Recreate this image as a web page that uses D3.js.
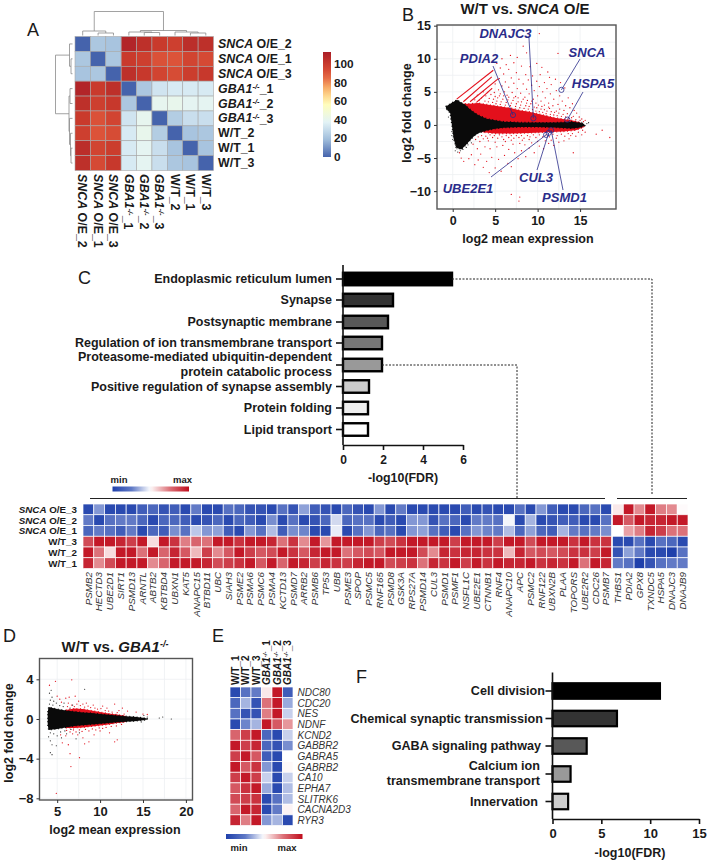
<!DOCTYPE html>
<html><head><meta charset="utf-8">
<script src="https://cdnjs.cloudflare.com/ajax/libs/d3/7.8.5/d3.min.js"></script>
<style>
html,body{margin:0;padding:0;background:#fff}
text{font-family:"Liberation Sans",Arial,sans-serif;fill:#1a1a1a}
</style></head><body><svg id="c" width="709" height="862"></svg>
<script>
/* ---------- Panel A ---------- */
const sampleA=["SNCA O/E_2","SNCA O/E_1","SNCA O/E_3","GBA1-/-_1","GBA1-/-_2","GBA1-/-_3","W/T_2","W/T_1","W/T_3"];
const distA=[
[0,22,21,110,105,100,98,106,105],
[22,0,22,100,98,91,90,96,94],
[21,22,0,105,101,96,93,99,101],
[110,100,105,0,22,32,34,34,34],
[105,98,101,22,0,40,41,39,39],
[100,91,96,32,40,0,24,30,30],
[98,90,93,34,41,24,0,21,22],
[106,96,99,34,39,30,21,0,21],
[105,94,101,34,39,30,22,21,0]];
const dendroColsA={h:24,c:[{h:4.5,c:[0,{h:2.5,c:[1,2]}]},{h:5,c:[{h:3.5,c:[3,{h:3,c:[4,5]}]},{h:3.5,c:[6,{h:2.5,c:[7,8]}]}]}]};
const dendroRowsA={h:17,c:[{h:3,c:[0,{h:1.5,c:[1,2]}]},{h:3.5,c:[{h:2.5,c:[3,4]},{h:3,c:[5,{h:2,c:[6,{h:1.5,c:[7,8]}]}]}]}]};
const legendTicksA=[0,20,40,60,80,100];
/* ---------- Panel B ---------- */
const blackUpB=[[-0.8,2.8],[-0.3,3.2],[0.5,3.8],[1,3.4],[1.5,3.0],[2,2.4],[2.5,1.9],[3,1.5],[4,0.95],[5,0.7],[6,0.5],[8,0.38],[10,0.36],[12,0.36],[13,0.42],[14,0.5],[15,0.32],[15.5,0.15]];
const blackLowB=[[-0.8,2.5],[-0.3,1.8],[-0.1,0],[0.1,-2],[0.4,-3.4],[1,-3.7],[1.5,-3.1],[2,-2.4],[2.5,-1.7],[3,-1.25],[4,-0.85],[5,-0.58],[6,-0.42],[8,-0.32],[10,-0.32],[12,-0.38],[13,-0.48],[14,-0.52],[15,-0.38],[15.5,-0.15]];
const redUpB=[[1,3.2],[2,3.2],[3,3.3],[4,3.1],[5,2.9],[6,2.7],[7,2.5],[8,2.2],[9,2.0],[10,1.7],[11,1.4],[12,1.1],[13,0.9],[14,0.7],[15,0.4]];
const redLowB=[[3.5,-1.1],[5,-1.3],[7,-1.3],[9,-1.2],[11,-1.1],[13,-1.0],[14.5,-0.8],[15.5,-0.3]];
const streaksB=[[0.47,3.9,4.78,8.26],[1.25,3.5,4.6,7.25],[2.04,3.5,5.37,7.0],[2.8,3.4,4.6,5.5]];
const redScatterB=[[10.2,13.8],[8.3,11.9],[8.7,10.9],[12.4,10.8],[6.8,10.5],[7.6,10.2],[5.8,10],[9.9,9.3],[5.2,9.3],[6.3,9.1],[7.2,9.4],[5.6,8.6],[6.6,8.4],[8.1,8.9],[9.1,8.8],[10.5,8.7],[11.2,8.0],[7.5,7.9],[8.6,7.6],[6.0,7.7],[9.4,7.4],[10.3,7.6],[11.4,7.2],[12.1,6.9],[6.9,7.1],[7.8,6.9],[8.9,6.8],[5.5,7.0],[9.9,6.6],[10.8,6.4],[11.6,6.1],[12.7,6.4],[6.2,6.5],[7.2,6.3],[8.3,6.2],[9.3,6.0],[10.2,5.8],[11.1,5.5],[12.2,5.2],[13.2,5.6],[5.0,6.2],[5.8,5.9],[6.6,5.7],[7.6,5.5],[8.7,5.4],[9.6,5.2],[10.6,5.0],[11.5,4.7],[12.6,4.4],[13.6,4.1],[4.6,5.5],[5.4,5.3],[6.1,5.0],[7.0,4.9],[8.0,4.8],[9.0,4.7],[10.0,4.4],[10.9,4.1],[11.9,3.9],[12.9,3.6],[14.1,3.2],[13.3,2.9],[12.4,3.1],[11.3,3.3],[10.4,3.6],[9.5,3.9],[8.5,4.2],[7.4,4.3],[14.6,1.8],[14.9,1.2],[15.2,0.9],[14.3,2.2],[13.8,2.6],[13.1,2.2],[12.6,2.4],[11.8,2.9],[10.8,3.0],[6.4,4.5],[5.6,4.7],[4.9,4.9],[7.7,4.1],[8.8,3.7],[9.8,3.3],[10.5,2.8],[11.4,2.5],[12.2,2.1],[13.5,1.7],[14.2,1.3],[15.6,0.7],
[2.6,3.8],[2.9,4.5],[3.1,3.7],[3.4,4.1],[3.6,5.0],[3.8,3.6],[3.9,4.4],[4.1,4.9],[4.2,3.5],[4.3,4.0],[4.5,4.6],[4.7,3.4],[4.8,3.9],[5.0,4.3],[5.1,3.2],[5.2,3.6],[5.3,4.1],[5.5,4.4],[5.6,3.1],[5.7,3.5],[5.9,3.9],[6.0,4.4],[6.2,3.0],[6.3,3.4],[6.5,3.8],[6.6,4.2],[6.8,2.9],[6.9,3.3],[7.1,3.7],[7.2,4.1],[7.4,2.8],[7.5,3.2],[7.7,3.5],[7.9,2.6],[8.0,3.0],[8.1,3.5],[8.3,3.9],[8.4,2.5],[8.6,2.9],[8.7,3.3],[8.9,2.4],[9.0,2.8],[9.2,3.2],[9.3,3.6],[9.4,2.3],[9.6,2.7],[9.8,2.1],[9.9,2.6],[10.1,3.0],[10.2,2.0],[10.4,2.4],[10.6,1.9],[10.8,2.3],[11.0,1.7],[11.1,2.1],[11.3,2.7],[11.5,1.6],[11.6,2.0],[11.9,1.5],[12.0,1.9],[12.3,1.4],[12.5,1.8],[12.8,1.3],[13.0,1.6],[13.3,1.2],[13.7,1.0],[14.0,1.1],[14.5,0.8],[15.0,0.7],[15.4,0.5],
[16.9,-1.4],[17.6,-0.8],[18.5,-1.9],[14.2,-4.2],[6.9,-10.5],[7.9,-10.9],[7.8,-11.5],[0.8,-4.2],[1.0,-5.0],[1.3,-5.5],[1.9,-5.1],[2.2,-4.5],[2.6,-6.0],[3.0,-5.3],[3.3,-4.4],[3.6,-6.4],[4.0,-5.5],[4.3,-7.2],[4.6,-4.9],[5.0,-6.5],[5.4,-5.2],[5.7,-7.0],[6.1,-4.6],[6.5,-5.8],[6.9,-6.3],[7.3,-4.2],[7.7,-5.1],[8.1,-3.9],[8.6,-4.8],[9.0,-3.5],[9.6,-4.2],[10.2,-3.2],[10.7,-3.6],[11.3,-2.8],[11.9,-3.1],[12.5,-2.6],[13.1,-2.4],[13.7,-2.1],[14.5,-1.7],[15.2,-1.5],[15.6,-1.1],[2.9,-3.6],[3.8,-3.3],[4.4,-3.6],[5.2,-3.3],[5.9,-3.1],[6.6,-3.7],[7.1,-2.9],[7.9,-2.8],[8.5,-3.0],[9.3,-2.7],[10.0,-2.5],[10.9,-2.4],[11.6,-2.3],[12.2,-2.0],[3.2,-2.5],[4.2,-2.4],[5.0,-2.6],[6.2,-2.5],[6.9,-2.3],[8.2,-2.3],[9.0,-2.2],[13.9,-1.6],
[2.4,-2.9],[2.7,-2.2],[3.0,-1.8],[3.4,-1.6],[3.6,-2.1],[3.9,-1.7],[4.1,-2.0],[4.4,-1.5],[4.7,-1.9],[4.9,-1.6],[5.3,-2.0],[5.5,-1.5],[5.8,-1.8],[6.0,-2.2],[6.3,-1.6],[6.6,-1.9],[6.9,-1.6],[7.2,-2.0],[7.5,-1.6],[7.8,-1.9],[8.1,-1.6],[8.4,-2.0],[8.8,-1.6],[9.1,-1.8],[9.5,-1.5],[9.8,-1.9],[10.2,-1.5],[10.6,-1.8],[11.0,-1.5],[11.4,-1.8],[11.8,-1.4],[12.3,-1.6],[12.8,-1.4],[13.2,-1.7],[13.6,-1.3],[14.1,-1.3],[14.8,-1.1],[15.3,-0.8]];
const blackScatterB=[[15.8,0.2],[15.6,-0.1],[16,0.35],[15.2,0.4],[0.3,-3.9],[0.6,-4.1],[1.2,-3.7],[0.9,-3.9],[0.5,-3.6],[0.4,-3.1],[1.6,-3.4],[1.8,-3.0],[2.2,-2.7],[-0.5,1.2],[-0.2,0.9],[-0.4,2.1],[-0.6,2.3],[-0.1,-1.0],[-0.1,-1.6],[0,-2.2]];
const genesB=[["SNCA",12.8,5.3],["HSPA5",13.5,0.8],["PDIA2",7.1,1.5],["DNAJC3",9.5,1.0],["UBE2E1",11.0,-1.5],["CUL3",11.3,-1.2],["PSMD1",11.6,-0.8]];
const ticksXB=[0,5,10,15], ticksYB=[-10,-5,0,5,10,15];
/* ---------- Panel C ---------- */
const termsC=[["Endoplasmic reticulum lumen"],["Synapse"],["Postsynaptic membrane"],["Regulation of ion transmembrane transport"],["Proteasome-mediated ubiquitin-dependent","protein catabolic process"],["Positive regulation of synapse assembly"],["Protein folding"],["Lipid transport"]];
const fdrC=[5.45,2.5,2.25,1.95,1.95,1.3,1.25,1.25];
const greysC=["#000","#333","#585858","#777","#999","#ccc","#eee","#fff"];
const ticksC=[0,2,4,6];
const rowsH=["SNCA O/E_3","SNCA O/E_2","SNCA O/E_1","W/T_3","W/T_2","W/T_1"];
const genesH1=["PSMB2","HECTD3","UBE2D1","SIRT1","PSMD13","ARNTL","ABTB2","KBTBD4","UBXN1","KAT5","ANAPC15","BTBD11","UBC","SIAH3","PSME2","PSMA6","PSMC6","PSMA4","KCTD13","PSMD7","ARRB2","PSMB6","TP53","UBB","PSME3","SPOP","PSMC5","RNF165","PSMD8","GSK3A","RPS27A","PSMD14","CUL3","PSMD1","PSMF1","NSFL1C","UBE2E1","CTNNB1","RNF4","ANAPC10","APC","PSMC2","RNF122","UBXN2B","PLAA","TOPORS","UBE2R2","CDC26","PSMB7"];
const genesH2=["THBS1","PDIA2","GPX8","TXNDC5","HSPA5","DNAJC3","DNAJB9"];
const exprH1=[
[-.95,-.55,-.95,-.95,-.95,-.85,-.8,-.9,-.85,-.95,-.7,-.95,-.95,-.75,-.8,-.9,-.9,-.95,-.75,-.9,-.5,-.85,-.9,-.95,-.8,-.9,-.95,-.55,-.95,-.7,-.95,-.95,-.95,-.95,-.95,-.85,-.95,-.9,-.95,-.95,-.75,-.95,-.55,-.85,-.95,-.95,-.8,-.75,-.95],
[-.7,-.95,-.75,-.7,-.7,-.8,-.95,-.8,-.8,-.85,-.95,-.9,-.8,-.95,-.8,-.85,-.95,-.6,-.95,-.75,-.95,-.9,-.8,-.2,-.8,-.75,-.75,-.95,-.85,-.95,-.55,-.55,-.9,-.75,-.8,-.95,-.7,-.7,-.75,-.05,-.95,-.4,-.95,-.9,-.85,-.85,-.95,-.95,-.75],
[-.8,-.7,-.75,-.85,-.7,-.95,-.8,-.85,-.6,-.75,-.3,-.55,-.5,-.85,-.95,-.55,-.75,-.35,-.85,-.6,-.65,-.95,-.95,-.1,-.95,-.75,-.55,-.8,-.75,-.95,-.55,-.5,-.75,-.85,-.95,-.75,-.55,-.65,-.7,-.35,-.8,-.5,-.8,-.85,-.4,-.7,-.75,-.7,-.6],
[.75,.95,.95,.9,.8,.95,.15,.95,.85,.55,.65,.6,.95,.95,.85,.95,.95,.9,.6,.85,.5,.95,.45,.95,.95,.95,.95,.8,.75,.85,.95,.95,.95,.95,.8,.95,.95,.95,.8,.95,.95,.75,.95,.95,.95,.85,.95,.85,.85],
[.95,.6,.15,.95,.95,.6,.95,.65,.9,.7,.3,.8,.5,.7,.95,.8,.7,.75,.95,.85,.7,.9,.95,.95,.6,.7,.75,.7,.95,.95,.95,.75,.5,.9,.85,.9,.9,.85,.85,.3,.9,.7,.75,.7,.75,.85,.85,.8,.95],
[.9,.5,.75,.95,.95,.95,.5,.65,.95,.95,.95,.9,.75,.8,.85,.95,.7,.95,.65,.95,.9,.8,.9,.85,.8,.9,.95,.95,.75,.8,.85,.6,.9,.85,.95,.8,.95,.85,.95,.9,.9,.95,.85,.9,.85,.95,.6,.95,.9]];
const exprH2=[
[.1,.95,.5,.95,.55,.5,.02],
[.95,.7,.95,.9,.9,.95,.95],
[0,.4,.55,.9,.8,.6,.6],
[-.95,-.95,-.75,-.95,-.75,-.8,-.95],
[-.9,-.5,-.7,-.95,-.95,-1,-.75],
[-.7,-.75,-1,-.9,-.75,-.7,-.7]];
/* ---------- Panel D ---------- */
const blackUpD=[[3.9,0.7],[4,1.2],[5,1.0],[6,0.85],[7,0.75],[8,0.65],[9,0.6],[10,0.5],[11,0.42],[12,0.35],[13,0.28],[14,0.22],[15,0.13],[15.5,0.05]];
const blackLowD=[[3.9,-0.6],[4,-1.1],[5,-1.0],[6,-0.85],[7,-0.7],[8,-0.62],[9,-0.55],[10,-0.47],[11,-0.4],[12,-0.32],[13,-0.27],[14,-0.22],[15,-0.13],[15.5,-0.05]];
const redUpD=[[6,0.9],[7,1.05],[8,1.0],[9,0.85],[10,0.7],[11,0.55],[12,0.45],[13,0.3]];
const redLowD=[[6,-0.9],[7,-0.9],[8,-0.85],[9,-0.75],[10,-0.65],[11,-0.55],[12,-0.4],[13,-0.3]];
const redScatterD=[[4.8,3.8],[4.1,3.4],[6.7,3.95],[5.3,2.0],[5.0,2.3],[6.0,2.1],[6.4,2.2],[5.5,1.7],[7.1,2.3],[6.3,1.6],[7.5,1.8],[8.4,1.6],[9.2,1.4],[10.3,1.3],[10.8,1.1],[11.7,1.5],[12.6,1.1],[12.2,0.85],[13.2,0.8],[14.2,0.7],[15.0,0.5],[15.5,0.45],[5.4,-1.6],[6.0,-1.7],[6.8,-1.5],[7.4,-1.6],[8.0,-1.9],[8.7,-2.3],[9.3,-1.6],[10.0,-1.2],[11.1,-1.4],[11.7,-2.3],[12.0,-2.1],[6.3,-2.6],[5.6,-2.4],[4.9,-7.5],[6.5,-3.5],[7.6,-3.9],[6.6,-4.8],[8.2,-2.5],
[6.2,1.25],[6.7,1.4],[7.0,1.25],[7.3,1.5],[7.7,1.35],[8.0,1.5],[8.2,1.2],[8.6,1.3],[8.9,1.15],[9.4,1.1],[9.7,1.0],[10.1,1.05],[10.6,0.85],[11.0,0.8],[11.4,0.7],[12.0,0.65],[12.8,0.5],[6.1,-1.15],[6.5,-1.3],[6.9,-1.1],[7.2,-1.3],[7.6,-1.1],[7.9,-1.25],[8.3,-1.05],[8.7,-1.2],[9.1,-1.0],[9.5,-1.1],[9.9,-0.9],[10.3,-0.95],[10.7,-0.85],[11.3,-0.75],[11.9,-0.7],[12.5,-0.55]];
const blackScatterD=[[4.1,2.6],[4.3,2.9],[4.4,2.2],[4.2,1.9],[4.6,1.8],[5.8,1.6],[8.2,3.0],[6.8,1.4],[16.9,0.1],[17.3,0.2],[18.3,0],[15.1,0.35],[15.5,0.2],[14.8,-0.3],[15.2,-0.1],[4.0,-1.8],[4.2,-2.2],[4.4,-2.6],[4.9,-2.7],[4.2,-3.4],[4.4,-3.6],[5.5,-1.9],[6.1,-1.5],[7.2,-2.0],[7.6,-1.4],[4.1,1.5],[4.5,1.4],[4.9,1.6],[5.3,1.35],[5.7,1.25],[6.5,1.1],[4.2,-1.4],[4.6,-1.5],[5.0,-1.7],[5.4,-1.3],[5.9,-1.2],[6.6,-1.05]];
const ticksXD=[5,10,15,20], ticksYD=[-8,-4,0,4];
/* ---------- Panel E ---------- */
const samplesE=["W/T_1","W/T_2","W/T_3","GBA1-/-_1","GBA1-/-_2","GBA1-/-_3"];
const genesE=["NDC80","CDC20","NES","NDNF","KCND2","GABBR2","GABRA5","GABRB2","CA10","EPHA7","SLITRK6","CACNA2D3","RYR3"];
const exprE=[
[-.95,-.75,-.7,.1,.95,-.85],
[-.8,-.4,-.9,.6,.95,-.45],
[-.75,-.9,-.9,.55,.95,-.25],
[-.95,-.65,-.4,.95,.7,.45],
[.65,.8,.95,-.8,-.95,-.25],
[.95,.8,.9,-.8,-.9,-.6],
[.8,.95,.7,-.85,-.95,0],
[.95,.7,.85,-.55,-.95,.03],
[.8,.95,.8,-.25,-.95,-.25],
[.7,.85,.95,-.45,-.95,-.35],
[.75,.8,.85,-.95,-.75,-.35],
[.65,.95,.9,-.95,-.7,.05],
[.9,.55,.95,-.55,-.4,-.95]];
/* ---------- Panel F ---------- */
const termsF=[["Cell division"],["Chemical synaptic transmission"],["GABA signaling pathway"],["Calcium ion","transmembrane transport"],["Innervation"]];
const fdrF=[11,6.6,3.5,1.85,1.6];
const greysF=["#000","#333","#585858","#999","#ccc"];
const ticksF=[0,5,10,15];

/* ---------- helpers ---------- */
const svg=d3.select("#c");
const ink="#1a1a1a", navy="#2a2c8a", red="#e3101c";
const heat=d3.scaleLinear().domain([-1,-.5,0,.5,1]).range(["#1f40ab","#8ea1d8","#ffffff","#e38a90","#bf0c1c"]);
const corr=d3.scaleLinear().domain([0,18,37,56,72,88,100,113]).range(["#4563ac","#9dbbda","#e2f3f8","#ffffbf","#fdbf71","#e0583c","#c93a2c","#ab1f28"]);
function rich(t,label){
  const m=/^(SNCA)( O\/E_\d)$/.exec(label), g=/^(GBA1)-\/-(_\d)$/.exec(label);
  if(m){t.append("tspan").attr("font-style","italic").text(m[1]);t.append("tspan").text(m[2]);}
  else if(g){t.append("tspan").attr("font-style","italic").text(g[1]);
    t.append("tspan").attr("font-style","italic").attr("font-size","0.62em").attr("dy","-0.5em").text("-/-");
    t.append("tspan").attr("dy","0.32em").text(g[2]);}
  else t.text(label);
}
function letter(s,x,y){svg.append("text").attr("x",x).attr("y",y).attr("font-size",18).text(s);}
function legendBar(id,x0,x1,y,h){
  const g=svg.append("defs").append("linearGradient").attr("id",id);
  [[0,"#1f40ab"],[.25,"#5f79c6"],[.48,"#f4f6fb"],[.52,"#fbeeee"],[.75,"#dc7077"],[1,"#bf0c1c"]].forEach(s=>g.append("stop").attr("offset",s[0]).attr("stop-color",s[1]));
  svg.append("rect").attr("x",x0).attr("y",y).attr("width",x1-x0).attr("height",h).attr("fill",`url(#${id})`);
}
function maPanel(o){
  const g=svg.append("g");
  const x=d3.scaleLinear().domain(o.xd).range([o.l,o.r]), y=d3.scaleLinear().domain(o.yd).range([o.b,o.t]);
  const clip="clip"+o.id;
  svg.append("defs").append("clipPath").attr("id",clip).append("rect").attr("x",o.l).attr("y",o.t).attr("width",o.r-o.l).attr("height",o.b-o.t);
  const minorX=d3.range(0,o.ticksX.length*2-1).map(i=>o.ticksX[0]+i*(o.ticksX[1]-o.ticksX[0])/2);
  const minorY=d3.range(0,o.ticksY.length*2-1).map(i=>o.ticksY[0]+i*(o.ticksY[1]-o.ticksY[0])/2);
  g.selectAll(".gx").data(minorX).join("line").attr("x1",d=>x(d)).attr("x2",d=>x(d)).attr("y1",o.t).attr("y2",o.b).attr("stroke","#eef0f2").attr("stroke-width",.8);
  g.selectAll(".gy").data(minorY).join("line").attr("y1",d=>y(d)).attr("y2",d=>y(d)).attr("x1",o.l).attr("x2",o.r).attr("stroke","#eef0f2").attr("stroke-width",.8);
  const band=(up,low,col)=>{
    const poly=up.concat(low.slice().reverse()).map(p=>[x(p[0]),y(p[1])]);
    const line=d3.line().curve(d3.curveLinearClosed);
    g.append("path").attr("d",line(poly)).attr("fill",col);
    g.append("path").attr("d",line(poly)).attr("fill","none").attr("stroke",col).attr("stroke-width",o.speck).attr("stroke-dasharray","1 2.6");
  };
  band(o.redUp,o.redLow,red);
  (o.streaks||[]).forEach(s=>g.append("line").attr("x1",x(s[0])).attr("y1",y(s[1])).attr("x2",x(s[2])).attr("y2",y(s[3])).attr("stroke",red).attr("stroke-width",1.1));
  g.append("g").attr("clip-path",`url(#${clip})`).selectAll("circle").data(o.redPts).join("circle").attr("cx",d=>x(d[0])).attr("cy",d=>y(d[1])).attr("r",.65).attr("fill",red);
  band(o.blackUp,o.blackLow,"#0a0a0a");
  g.append("g").selectAll("circle").data(o.blackPts).join("circle").attr("cx",d=>x(d[0])).attr("cy",d=>y(d[1])).attr("r",.6).attr("fill","#222");
  g.append("rect").attr("x",o.l).attr("y",o.t).attr("width",o.r-o.l).attr("height",o.b-o.t).attr("fill","none").attr("stroke","#555").attr("stroke-width",1.4);
  const ax=g.append("g").attr("transform",`translate(0,${o.b})`).call(d3.axisBottom(x).tickValues(o.ticksX).tickSize(3).tickPadding(4));
  const ay=g.append("g").attr("transform",`translate(${o.l},0)`).call(d3.axisLeft(y).tickValues(o.ticksY).tickSize(3).tickPadding(3));
  [ax,ay].forEach(a=>{a.select(".domain").remove();a.selectAll("line").attr("stroke","#333").attr("stroke-width",1);
    a.selectAll("text").attr("font-size",o.tf).attr("font-weight","bold").attr("font-family",'"Liberation Sans"').attr("fill",ink);});
  g.append("text").attr("x",o.xtx).attr("y",o.xty).attr("text-anchor","middle").attr("font-size",o.tl).attr("font-weight","bold").text("log2 mean expression");
  g.append("text").attr("transform",`translate(${o.ytx},${o.yty}) rotate(-90)`).attr("text-anchor","middle").attr("font-size",o.tl).attr("font-weight","bold").text("log2 fold change");
  return {x,y,g};
}
function barPanel(o){
  const g=svg.append("g");
  const x=d3.scaleLinear().domain([0,o.ticks[o.ticks.length-1]]).range([o.x0,o.x1]);
  const y=d3.scaleOrdinal().domain(d3.range(o.vals.length)).range(o.ys);
  g.selectAll("rect").data(o.vals).join("rect").attr("x",o.x0).attr("y",(d,i)=>y(i)-o.h/2).attr("width",d=>x(d)-o.x0).attr("height",o.h).attr("fill",(d,i)=>o.greys[i]).attr("stroke","#000").attr("stroke-width",o.sw);
  const ax=g.append("g").attr("transform",`translate(0,${o.axisY})`).call(d3.axisBottom(x).tickValues(o.ticks).tickFormat(d3.format("d")).tickSize(5).tickPadding(5).tickSizeOuter(0));
  ax.select(".domain").attr("stroke","#111").attr("stroke-width",1.6);
  ax.selectAll("line").attr("stroke","#111").attr("stroke-width",1.6);
  ax.selectAll("text").attr("font-size",o.tf).attr("font-weight","bold").attr("font-family",'"Liberation Sans"').attr("fill",ink);
  g.append("line").attr("x1",o.x0).attr("x2",o.x0).attr("y1",o.top).attr("y2",o.axisY).attr("stroke","#111").attr("stroke-width",1.6);
  g.selectAll(".t").data(o.vals).join("line").attr("x1",o.x0-7).attr("x2",o.x0).attr("y1",(d,i)=>y(i)).attr("y2",(d,i)=>y(i)).attr("stroke","#111").attr("stroke-width",1.6);
  o.terms.forEach((lines,i)=>{
    lines.forEach((s,j)=>{
      const dy=(j-(lines.length-1)/2)*o.lh-(lines.length>1?1:0);
      const t=g.append("text").attr("x",o.lx[i]).attr("y",y(i)+dy+o.tl*.35).attr("text-anchor","end").attr("font-size",o.tl).attr("font-weight","bold").text(s);
      if(o.fit&&o.fit[s])t.attr("textLength",o.fit[s]).attr("lengthAdjust","spacing");
    });
  });
  g.append("text").attr("x",o.xtx).attr("y",o.xty).attr("text-anchor","middle").attr("font-size",o.xtf).attr("font-weight","bold").text("-log10(FDR)");
  return {x,y};
}
function heatmap(o){
  const x=d3.scaleBand().domain(d3.range(o.cols.length)).range([o.x0,o.x1]);
  const y=d3.scaleBand().domain(d3.range(o.rows.length)).range([o.y0,o.y1]);
  const g=svg.append("g");
  o.m.forEach((row,r)=>g.selectAll(null).data(row).join("rect").attr("x",(d,c)=>x(c)).attr("y",y(r)).attr("width",x.bandwidth()).attr("height",y.bandwidth()).attr("fill",o.color).attr("stroke",o.stroke).attr("stroke-width",o.sw));
  return {x,y};
}
function dendro(node,pos,cb){
  if(typeof node==="number")return {p:pos(node),h:0};
  const a=dendro(node.c[0],pos,cb), b=dendro(node.c[1],pos,cb);
  cb(a,b,node.h);
  return {p:(a.p+b.p)/2,h:node.h};
}

/* ---------- A ---------- */
letter("A",27,36);
{
  const a=heatmap({cols:sampleA,rows:sampleA,m:distA,x0:75,x1:213.5,y0:36.5,y1:170.5,color:corr,stroke:"#a8a8a8",sw:.6});
  const cx=i=>a.x(i)+a.x.bandwidth()/2, cy=i=>a.y(i)+a.y.bandwidth()/2;
  const line=(p)=>svg.append("path").attr("d",d3.line()(p)).attr("fill","none").attr("stroke","#8a8a8a").attr("stroke-width",.8);
  dendro(dendroColsA,cx,(l,r,h)=>{const B=35.5;line([[l.p,B-l.h],[l.p,B-h],[r.p,B-h],[r.p,B-r.h]]);});
  dendro(dendroRowsA,cy,(l,r,h)=>{const B=72.5;line([[B-l.h,l.p],[B-h,l.p],[B-h,r.p],[B-r.h,r.p]]);});
  sampleA.forEach((s,i)=>{
    rich(svg.append("text").attr("x",218).attr("y",cy(i)+4).attr("font-size",12.4).attr("font-weight","bold"),s);
    rich(svg.append("text").attr("transform",`translate(${cx(i)-4.3},174) rotate(90)`).attr("font-size",12.4).attr("font-weight","bold"),s);
  });
  const ly=d3.scaleLinear().domain([0,113]).range([157,52]);
  const grad=svg.append("defs").append("linearGradient").attr("id","cb").attr("x1",0).attr("x2",0).attr("y1",1).attr("y2",0);
  d3.range(0,114,9.4).forEach(v=>grad.append("stop").attr("offset",v/113).attr("stop-color",corr(v)));
  svg.append("rect").attr("x",323).attr("y",52).attr("width",8).attr("height",105).attr("fill","url(#cb)");
  svg.selectAll(null).data(legendTicksA).join("text").attr("x",334).attr("y",d=>ly(d)+4).attr("font-size",11.8).attr("font-weight","bold").text(d=>d);
}
/* ---------- B ---------- */
letter("B",402,21);
{
  const t=svg.append("text").attr("x",525).attr("y",14).attr("text-anchor","middle").attr("font-size",15).attr("font-weight","bold");
  t.append("tspan").text("W/T vs. ");t.append("tspan").attr("font-style","italic").text("SNCA");t.append("tspan").text(" O/E");
  const p=maPanel({id:"B",l:437,r:616,t:25,b:209,xd:[-1.85,19.23],yd:[-12.7,15.1],ticksX:ticksXB,ticksY:ticksYB,redUp:redUpB,redLow:redLowB,blackUp:blackUpB,blackLow:blackLowB,streaks:streaksB,redPts:redScatterB,blackPts:blackScatterB,speck:1.3,tf:12.5,tl:12.5,xtx:528,xty:243,ytx:411,yty:113});
  const anchors={SNCA:[580,59],HSPA5:[583,92],PDIA2:[493,66],DNAJC3:[529,38],UBE2E1:[491,177],CUL3:[537,170],PSMD1:[563,190]};
  const labels={SNCA:[587,57],HSPA5:[593,88],PDIA2:[479,63],DNAJC3:[505.5,38],UBE2E1:[468,193],CUL3:[536,182],PSMD1:[564.5,202]};
  genesB.forEach(d=>{
    const cx=p.x(d[1]),cy=p.y(d[2]);
    svg.append("line").attr("x1",cx).attr("y1",cy).attr("x2",anchors[d[0]][0]).attr("y2",anchors[d[0]][1]).attr("stroke",navy).attr("stroke-width",.8);
    svg.append("circle").attr("cx",cx).attr("cy",cy).attr("r",2.6).attr("fill","none").attr("stroke",navy).attr("stroke-width",.8);
    svg.append("text").attr("x",labels[d[0]][0]).attr("y",labels[d[0]][1]).attr("text-anchor","middle").attr("font-size",13).attr("font-weight","bold").attr("font-style","italic").style("fill",navy).text(d[0]);
  });
}
/* ---------- C ---------- */
letter("C",78,284);
{
  const b=barPanel({vals:fdrC,terms:termsC,greys:greysC,ticks:ticksC,x0:343,x1:463,axisY:445,top:265,ys:[279,300,322,343,365,386.5,408,429.5],h:12.5,sw:2.4,tf:12,xtf:12.4,tl:12.5,lh:15,lx:termsC.map(()=>332),fit:{"Regulation of ion transmembrane transport":257,"Proteasome-mediated ubiquitin-dependent":254},xtx:403,xty:482});
  const dash=(x0,y0,x1,y1)=>svg.append("path").attr("d",d3.line()([[x0,y0],[x1,y0],[x1,y1]])).attr("fill","none").attr("stroke","#222").attr("stroke-width",1).attr("stroke-dasharray","2 1.5");
  dash(b.x(fdrC[0]),b.y(0),652,495);
  dash(b.x(fdrC[4]),b.y(4),517,498);
  svg.append("line").attr("x1",90).attr("x2",605).attr("y1",498.5).attr("y2",498.5).attr("stroke","#222").attr("stroke-width",1);
  svg.append("line").attr("x1",617).attr("x2",687).attr("y1",498.5).attr("y2",498.5).attr("stroke","#222").attr("stroke-width",1);
  legendBar("lg1",112.5,189,486.5,5);
  svg.append("text").attr("x",119).attr("y",483).attr("text-anchor","middle").attr("font-size",9.5).attr("font-weight","bold").text("min");
  svg.append("text").attr("x",182.5).attr("y",483).attr("text-anchor","middle").attr("font-size",9.5).attr("font-weight","bold").text("max");
  const h1=heatmap({cols:genesH1,rows:rowsH,m:exprH1,x0:83,x1:611.5,y0:504,y1:568.5,color:heat,stroke:"#fff",sw:.7});
  const h2=heatmap({cols:genesH2,rows:rowsH,m:exprH2,x0:612.5,x1:688,y0:504,y1:568.5,color:heat,stroke:"#fff",sw:.7});
  rowsH.forEach((s,i)=>rich(svg.append("text").attr("x",77).attr("y",h1.y(i)+h1.y.bandwidth()/2+3.5).attr("text-anchor","end").attr("font-size",9.8).attr("font-weight","bold"),s));
  const gl=(arr,h)=>arr.forEach((s,i)=>svg.append("text").attr("transform",`translate(${h.x(i)+h.x.bandwidth()/2+3.3},572) rotate(-90)`).attr("text-anchor","end").attr("font-size",9.8).attr("font-style","italic").style("fill","#333").text(s));
  gl(genesH1,h1);gl(genesH2,h2);
}
/* ---------- D ---------- */
letter("D",3,642);
{
  const t=svg.append("text").attr("x",115).attr("y",652).attr("text-anchor","middle").attr("font-size",15).attr("font-weight","bold");
  t.append("tspan").text("W/T vs. ");t.append("tspan").attr("font-style","italic").text("GBA1");
  t.append("tspan").attr("font-style","italic").attr("font-size",9).attr("dy",-5).text("-/-");
  maPanel({id:"D",l:39.5,r:192.5,t:658.5,b:800,xd:[2.94,20.77],yd:[-8.17,6.1],ticksX:ticksXD,ticksY:ticksYD,redUp:redUpD,redLow:redLowD,blackUp:blackUpD,blackLow:blackLowD,redPts:redScatterD,blackPts:blackScatterD,speck:1.2,tf:13,tl:12.5,xtx:115,xty:834,ytx:13,yty:733});
}
/* ---------- E ---------- */
letter("E",212,642);
{
  const h=heatmap({cols:samplesE,rows:genesE,m:exprE,x0:230,x1:293,y0:687,y1:825.5,color:heat,stroke:"#fff",sw:.7});
  samplesE.forEach((s,i)=>rich(svg.append("text").attr("transform",`translate(${h.x(i)+h.x.bandwidth()/2+3.6},685) rotate(-90)`).attr("font-size",10).attr("font-weight","bold"),s));
  genesE.forEach((s,i)=>svg.append("text").attr("x",297.5).attr("y",h.y(i)+h.y.bandwidth()/2+3.7).attr("font-size",10).attr("font-style","italic").style("fill","#333").text(s));
  legendBar("lg2",226,302.5,834,5);
  svg.append("text").attr("x",239).attr("y",851).attr("text-anchor","middle").attr("font-size",9.5).attr("font-weight","bold").text("min");
  svg.append("text").attr("x",287).attr("y",851).attr("text-anchor","middle").attr("font-size",9.5).attr("font-weight","bold").text("max");
}
/* ---------- F ---------- */
letter("F",356,683);
barPanel({vals:fdrF,terms:termsF,greys:greysF,ticks:ticksF,x0:552.5,x1:699,axisY:819,top:672.5,ys:[691,718.5,746,774,801.5],h:15.5,sw:2.2,tf:13,xtf:12.5,tl:12.6,lh:15.5,lx:[545,543,541,540,538],xtx:630,xty:857});
</script></body></html>
